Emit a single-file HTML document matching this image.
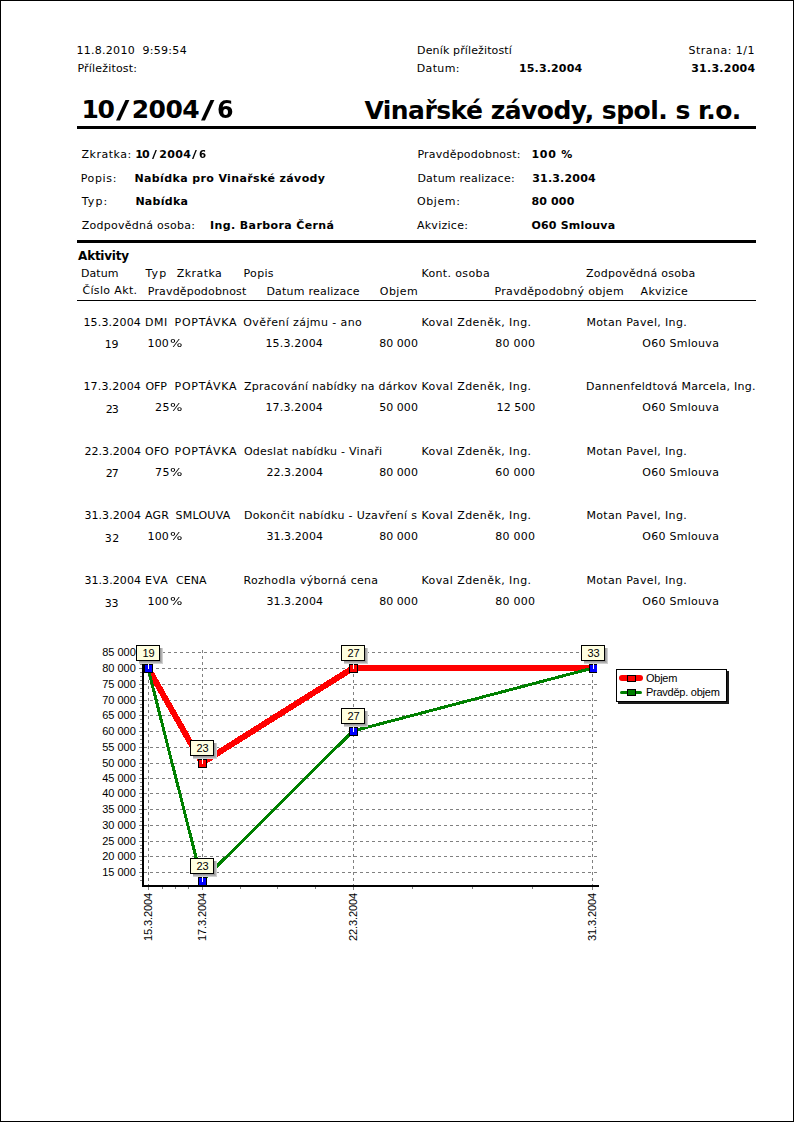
<!DOCTYPE html>
<html><head><meta charset="utf-8"><title>Deník příležitostí</title><style>
html,body{margin:0;padding:0;background:#fff;}
body{width:794px;height:1122px;position:relative;overflow:hidden;font-family:"DejaVu Sans","Liberation Sans",sans-serif;font-size:11px;color:#000;}
#frame{position:absolute;left:0;top:0;width:792px;height:1120px;border:1px solid #000;}
.t{position:absolute;white-space:nowrap;line-height:13px;}
.b{font-weight:bold;}
.hl{position:absolute;background:#000;}
.sl{display:inline-block;transform:scaleX(1.35);}
svg{position:absolute;left:0;top:0;}
</style></head><body>
<div id="frame"></div>
<div class="t " id="i0" style="top:44px;letter-spacing:0.286px;left:76.40px;">11.8.2010&nbsp; 9:59:54</div>
<div class="t " id="i1" style="top:62px;letter-spacing:0.188px;left:77.40px;">Příležitost:</div>
<div class="t " id="i2" style="top:44px;letter-spacing:0.132px;left:417.10px;">Deník příležitostí</div>
<div class="t " id="i3" style="top:62px;letter-spacing:0.364px;left:416.70px;">Datum:</div>
<div class="t b" id="i4" style="top:62px;letter-spacing:0.150px;left:519.00px;">15.3.2004</div>
<div class="t " id="i5" style="top:44px;letter-spacing:0.476px;left:688.50px;">Strana: 1/1</div>
<div class="t b" id="i6" style="top:62px;letter-spacing:0.250px;left:691.20px;">31.3.2004</div>
<div class="t " id="i7" style="top:148px;letter-spacing:0.528px;left:81.50px;">Zkratka:</div>
<div class="t " id="i8" style="top:172px;letter-spacing:0.652px;left:80.70px;">Popis:</div>
<div class="t b" id="i9" style="top:172px;letter-spacing:0.385px;left:134.40px;">Nabídka pro Vinařské závody</div>
<div class="t " id="i10" style="top:195px;letter-spacing:1.100px;left:81.70px;">Typ:</div>
<div class="t b" id="i11" style="top:195px;letter-spacing:0.272px;left:135.40px;">Nabídka</div>
<div class="t " id="i12" style="top:219px;letter-spacing:0.260px;left:81.70px;">Zodpovědná osoba:</div>
<div class="t b" id="i13" style="top:219px;letter-spacing:0.384px;left:210.10px;">Ing. Barbora Černá</div>
<div class="t " id="i14" style="top:148px;letter-spacing:0.216px;left:417.40px;">Pravděpodobnost:</div>
<div class="t b" id="i15" style="top:148px;letter-spacing:0.790px;left:531.40px;">100 %</div>
<div class="t " id="i16" style="top:172px;letter-spacing:0.237px;left:417.40px;">Datum realizace:</div>
<div class="t b" id="i17" style="top:172px;letter-spacing:0.190px;left:532.20px;">31.3.2004</div>
<div class="t " id="i18" style="top:195px;letter-spacing:0.620px;left:416.90px;">Objem:</div>
<div class="t b" id="i19" style="top:195px;letter-spacing:0.158px;left:531.40px;">80 000</div>
<div class="t " id="i20" style="top:219px;letter-spacing:0.280px;left:416.90px;">Akvizice:</div>
<div class="t b" id="i21" style="top:219px;letter-spacing:0.206px;left:531.40px;">O60 Smlouva</div>
<div class="t b" id="i22" style="top:249px;letter-spacing:-0.243px;font-size:12px;line-height:14px;left:78.10px;">Aktivity</div>
<div class="t " id="i23" style="top:267px;letter-spacing:0.020px;left:81.10px;">Datum</div>
<div class="t " id="i24" style="top:267px;letter-spacing:1.020px;left:145.60px;">Typ</div>
<div class="t " id="i25" style="top:267px;letter-spacing:0.434px;left:176.80px;">Zkratka</div>
<div class="t " id="i26" style="top:267px;letter-spacing:0.340px;left:243.50px;">Popis</div>
<div class="t " id="i27" style="top:267px;letter-spacing:0.364px;left:421.40px;">Kont. osoba</div>
<div class="t " id="i28" style="top:267px;letter-spacing:0.267px;left:585.90px;">Zodpovědná osoba</div>
<div class="t " id="i29" style="top:284px;letter-spacing:0.357px;left:82.40px;">Číslo Akt.</div>
<div class="t " id="i30" style="top:285px;letter-spacing:0.171px;left:147.80px;">Pravděpodobnost</div>
<div class="t " id="i31" style="top:285px;letter-spacing:0.224px;left:266.40px;">Datum realizace</div>
<div class="t " id="i32" style="top:285px;letter-spacing:0.420px;left:379.80px;">Objem</div>
<div class="t " id="i33" style="top:285px;letter-spacing:0.309px;left:494.50px;">Pravděpodobný objem</div>
<div class="t " id="i34" style="top:285px;letter-spacing:0.300px;left:640.60px;">Akvizice</div>
<div class="t " id="i35" style="top:316px;letter-spacing:0.180px;left:83.40px;">15.3.2004</div>
<div class="t " id="i36" style="top:316px;letter-spacing:0.620px;left:144.90px;">DMI</div>
<div class="t " id="i37" style="top:316px;letter-spacing:0.757px;left:174.50px;">POPTÁVKA</div>
<div class="t " id="i38" style="top:316px;letter-spacing:0.409px;left:243.30px;width:174.20px;overflow:hidden;">Ověření zájmu - ano</div>
<div class="t " id="i39" style="top:316px;letter-spacing:0.434px;left:421.40px;">Koval Zdeněk, Ing.</div>
<div class="t " id="i40" style="top:316px;letter-spacing:0.360px;left:586.40px;">Motan Pavel, Ing.</div>
<div class="t " id="i41" style="top:338px;letter-spacing:-0.180px;left:104.70px;">19</div>
<div class="t " id="i42" style="top:337px;letter-spacing:0.180px;left:147.50px;">100</div>
<div class="t " id="i43" style="top:337px;letter-spacing:0.300px;transform:scaleX(1.187);transform-origin:0 0;left:170.00px;">%</div>
<div class="t " id="i44" style="top:337px;letter-spacing:0.180px;left:265.40px;">15.3.2004</div>
<div class="t " id="i45" style="top:337px;letter-spacing:0.044px;left:379.20px;">80 000</div>
<div class="t " id="i46" style="top:337px;letter-spacing:0.252px;left:495.20px;">80 000</div>
<div class="t " id="i47" style="top:337px;letter-spacing:0.284px;left:642.20px;">O60 Smlouva</div>
<div class="t " id="i48" style="top:380px;letter-spacing:0.180px;left:83.40px;">17.3.2004</div>
<div class="t " id="i49" style="top:380px;letter-spacing:-0.100px;left:145.40px;">OFP</div>
<div class="t " id="i50" style="top:380px;letter-spacing:0.757px;left:174.50px;">POPTÁVKA</div>
<div class="t " id="i51" style="top:380px;letter-spacing:0.248px;left:243.90px;width:173.60px;overflow:hidden;">Zpracování nabídky na dárkové předměty</div>
<div class="t " id="i52" style="top:380px;letter-spacing:0.434px;left:421.40px;">Koval Zdeněk, Ing.</div>
<div class="t " id="i53" style="top:380px;letter-spacing:0.271px;left:586.10px;">Dannenfeldtová Marcela, Ing.</div>
<div class="t " id="i54" style="top:403px;letter-spacing:-0.980px;left:105.70px;">23</div>
<div class="t " id="i55" style="top:401px;letter-spacing:0.300px;left:155.10px;">25</div>
<div class="t " id="i56" style="top:401px;letter-spacing:0.300px;transform:scaleX(1.187);transform-origin:0 0;left:170.00px;">%</div>
<div class="t " id="i57" style="top:401px;letter-spacing:0.180px;left:265.40px;">17.3.2004</div>
<div class="t " id="i58" style="top:401px;letter-spacing:0.044px;left:379.20px;">50 000</div>
<div class="t " id="i59" style="top:401px;letter-spacing:0.044px;left:496.60px;">12 500</div>
<div class="t " id="i60" style="top:401px;letter-spacing:0.284px;left:642.20px;">O60 Smlouva</div>
<div class="t " id="i61" style="top:445px;letter-spacing:0.080px;left:84.40px;">22.3.2004</div>
<div class="t " id="i62" style="top:445px;letter-spacing:0.140px;left:145.10px;">OFO</div>
<div class="t " id="i63" style="top:445px;letter-spacing:0.757px;left:174.50px;">POPTÁVKA</div>
<div class="t " id="i64" style="top:445px;letter-spacing:0.261px;left:243.90px;width:173.60px;overflow:hidden;">Odeslat nabídku - Vinaři</div>
<div class="t " id="i65" style="top:445px;letter-spacing:0.434px;left:421.40px;">Koval Zdeněk, Ing.</div>
<div class="t " id="i66" style="top:445px;letter-spacing:0.360px;left:586.40px;">Motan Pavel, Ing.</div>
<div class="t " id="i67" style="top:467px;letter-spacing:-0.980px;left:105.70px;">27</div>
<div class="t " id="i68" style="top:466px;letter-spacing:0.300px;left:155.10px;">75</div>
<div class="t " id="i69" style="top:466px;letter-spacing:0.300px;transform:scaleX(1.187);transform-origin:0 0;left:170.00px;">%</div>
<div class="t " id="i70" style="top:466px;letter-spacing:0.080px;left:266.40px;">22.3.2004</div>
<div class="t " id="i71" style="top:466px;letter-spacing:0.044px;left:379.20px;">80 000</div>
<div class="t " id="i72" style="top:466px;letter-spacing:0.252px;left:495.20px;">60 000</div>
<div class="t " id="i73" style="top:466px;letter-spacing:0.284px;left:642.20px;">O60 Smlouva</div>
<div class="t " id="i74" style="top:509px;letter-spacing:0.080px;left:84.40px;">31.3.2004</div>
<div class="t " id="i75" style="top:509px;letter-spacing:0.140px;left:145.10px;">AGR</div>
<div class="t " id="i76" style="top:509px;letter-spacing:0.271px;left:175.40px;">SMLOUVA</div>
<div class="t " id="i77" style="top:509px;letter-spacing:0.329px;left:243.90px;width:173.60px;overflow:hidden;">Dokončit nabídku - Uzavření s</div>
<div class="t " id="i78" style="top:509px;letter-spacing:0.434px;left:421.40px;">Koval Zdeněk, Ing.</div>
<div class="t " id="i79" style="top:509px;letter-spacing:0.360px;left:586.40px;">Motan Pavel, Ing.</div>
<div class="t " id="i80" style="top:532px;letter-spacing:0.620px;left:104.70px;">32</div>
<div class="t " id="i81" style="top:530px;letter-spacing:0.180px;left:147.50px;">100</div>
<div class="t " id="i82" style="top:530px;letter-spacing:0.300px;transform:scaleX(1.187);transform-origin:0 0;left:170.00px;">%</div>
<div class="t " id="i83" style="top:530px;letter-spacing:0.080px;left:266.40px;">31.3.2004</div>
<div class="t " id="i84" style="top:530px;letter-spacing:0.044px;left:379.20px;">80 000</div>
<div class="t " id="i85" style="top:530px;letter-spacing:0.252px;left:495.20px;">80 000</div>
<div class="t " id="i86" style="top:530px;letter-spacing:0.284px;left:642.20px;">O60 Smlouva</div>
<div class="t " id="i87" style="top:574px;letter-spacing:0.080px;left:84.40px;">31.3.2004</div>
<div class="t " id="i88" style="top:574px;letter-spacing:0.700px;left:145.10px;">EVA</div>
<div class="t " id="i89" style="top:574px;letter-spacing:0.088px;left:175.90px;">CENA</div>
<div class="t " id="i90" style="top:574px;letter-spacing:0.308px;left:243.50px;width:174.00px;overflow:hidden;">Rozhodla výborná cena</div>
<div class="t " id="i91" style="top:574px;letter-spacing:0.434px;left:421.40px;">Koval Zdeněk, Ing.</div>
<div class="t " id="i92" style="top:574px;letter-spacing:0.360px;left:586.40px;">Motan Pavel, Ing.</div>
<div class="t " id="i93" style="top:597px;letter-spacing:-0.180px;left:104.70px;">33</div>
<div class="t " id="i94" style="top:595px;letter-spacing:0.180px;left:147.50px;">100</div>
<div class="t " id="i95" style="top:595px;letter-spacing:0.300px;transform:scaleX(1.187);transform-origin:0 0;left:170.00px;">%</div>
<div class="t " id="i96" style="top:595px;letter-spacing:0.080px;left:266.40px;">31.3.2004</div>
<div class="t " id="i97" style="top:595px;letter-spacing:0.044px;left:379.20px;">80 000</div>
<div class="t " id="i98" style="top:595px;letter-spacing:0.252px;left:495.20px;">80 000</div>
<div class="t " id="i99" style="top:595px;letter-spacing:0.284px;left:642.20px;">O60 Smlouva</div>
<div class="t b" id="i100" style="top:95px;letter-spacing:-1.250px;font-size:25px;line-height:30px;left:81.40px;">10</div>
<div class="t b" id="i101" style="top:95px;letter-spacing:0.350px;font-size:25px;line-height:30px;transform:scaleX(1.471);transform-origin:0 0;left:115.90px;">/</div>
<div class="t b" id="i102" style="top:95px;letter-spacing:-0.501px;font-size:25px;line-height:30px;left:131.70px;">2004</div>
<div class="t b" id="i103" style="top:95px;letter-spacing:0.350px;font-size:25px;line-height:30px;transform:scaleX(1.471);transform-origin:0 0;left:200.90px;">/</div>
<div class="t b" id="i104" style="top:95px;letter-spacing:0.350px;font-size:25px;line-height:30px;transform:scaleX(0.953);transform-origin:0 0;left:217.00px;">6</div>
<div class="t b" id="i105" style="top:96px;letter-spacing:-0.522px;font-size:25px;line-height:30px;left:364.40px;">Vinařské závody, spol. s r.o.</div>
<div class="t b" id="i106" style="top:148px;letter-spacing:-0.930px;left:135.30px;">10</div>
<div class="t b" id="i107" style="top:148px;letter-spacing:0.350px;transform:scaleX(1.213);transform-origin:0 0;left:151.60px;">/</div>
<div class="t b" id="i108" style="top:148px;letter-spacing:0.405px;left:159.20px;">2004</div>
<div class="t b" id="i109" style="top:148px;letter-spacing:0.350px;transform:scaleX(1.212);transform-origin:0 0;left:191.70px;">/</div>
<div class="t b" id="i110" style="top:148px;letter-spacing:0.350px;transform:scaleX(0.934);transform-origin:0 0;left:199.00px;">6</div>
<div class="hl" style="left:77px;top:126px;width:679px;height:3px"></div>
<div class="hl" style="left:77px;top:240px;width:679px;height:3px"></div>
<div class="hl" style="left:77px;top:300px;width:679px;height:1px"></div>
<svg width="794" height="1122" viewBox="0 0 794 1122"><defs><filter id="blur" x="-20%" y="-20%" width="140%" height="140%"><feGaussianBlur stdDeviation="0.6"/></filter><filter id="blur2" x="-10%" y="-20%" width="120%" height="140%"><feGaussianBlur stdDeviation="0.4"/></filter><clipPath id="plot"><rect x="144" y="650" width="453" height="235"/></clipPath></defs><style>.ax{font-family:"Liberation Sans",Arial,sans-serif;font-size:11px;fill:#000;}.xl{letter-spacing:-0.1px}.lg{letter-spacing:-0.25px}</style><path d="M144 652.5H597" stroke="#808080" stroke-dasharray="3 3"/><path d="M139 652.5H142" stroke="#808080"/><path d="M144 668.5H597" stroke="#808080" stroke-dasharray="3 3"/><path d="M139 668.5H142" stroke="#808080"/><path d="M144 684.5H597" stroke="#808080" stroke-dasharray="3 3"/><path d="M139 684.5H142" stroke="#808080"/><path d="M144 700.5H597" stroke="#808080" stroke-dasharray="3 3"/><path d="M139 700.5H142" stroke="#808080"/><path d="M144 715.5H597" stroke="#808080" stroke-dasharray="3 3"/><path d="M139 715.5H142" stroke="#808080"/><path d="M144 731.5H597" stroke="#808080" stroke-dasharray="3 3"/><path d="M139 731.5H142" stroke="#808080"/><path d="M144 747.5H597" stroke="#808080" stroke-dasharray="3 3"/><path d="M139 747.5H142" stroke="#808080"/><path d="M144 763.5H597" stroke="#808080" stroke-dasharray="3 3"/><path d="M139 763.5H142" stroke="#808080"/><path d="M144 778.5H597" stroke="#808080" stroke-dasharray="3 3"/><path d="M139 778.5H142" stroke="#808080"/><path d="M144 793.5H597" stroke="#808080" stroke-dasharray="3 3"/><path d="M139 793.5H142" stroke="#808080"/><path d="M144 809.5H597" stroke="#808080" stroke-dasharray="3 3"/><path d="M139 809.5H142" stroke="#808080"/><path d="M144 825.5H597" stroke="#808080" stroke-dasharray="3 3"/><path d="M139 825.5H142" stroke="#808080"/><path d="M144 841.5H597" stroke="#808080" stroke-dasharray="3 3"/><path d="M139 841.5H142" stroke="#808080"/><path d="M144 856.5H597" stroke="#808080" stroke-dasharray="3 3"/><path d="M139 856.5H142" stroke="#808080"/><path d="M144 872.5H597" stroke="#808080" stroke-dasharray="3 3"/><path d="M139 872.5H142" stroke="#808080"/><path d="M140 656.5H142" stroke="#808080"/><path d="M140 660.5H142" stroke="#808080"/><path d="M140 664.5H142" stroke="#808080"/><path d="M140 672.5H142" stroke="#808080"/><path d="M140 676.5H142" stroke="#808080"/><path d="M140 680.5H142" stroke="#808080"/><path d="M140 688.5H142" stroke="#808080"/><path d="M140 692.5H142" stroke="#808080"/><path d="M140 696.5H142" stroke="#808080"/><path d="M140 704.5H142" stroke="#808080"/><path d="M140 707.5H142" stroke="#808080"/><path d="M140 711.5H142" stroke="#808080"/><path d="M140 719.5H142" stroke="#808080"/><path d="M140 723.5H142" stroke="#808080"/><path d="M140 727.5H142" stroke="#808080"/><path d="M140 735.5H142" stroke="#808080"/><path d="M140 739.5H142" stroke="#808080"/><path d="M140 743.5H142" stroke="#808080"/><path d="M140 751.5H142" stroke="#808080"/><path d="M140 755.5H142" stroke="#808080"/><path d="M140 759.5H142" stroke="#808080"/><path d="M140 767.5H142" stroke="#808080"/><path d="M140 770.5H142" stroke="#808080"/><path d="M140 774.5H142" stroke="#808080"/><path d="M140 782.5H142" stroke="#808080"/><path d="M140 786.5H142" stroke="#808080"/><path d="M140 789.5H142" stroke="#808080"/><path d="M140 797.5H142" stroke="#808080"/><path d="M140 801.5H142" stroke="#808080"/><path d="M140 805.5H142" stroke="#808080"/><path d="M140 813.5H142" stroke="#808080"/><path d="M140 817.5H142" stroke="#808080"/><path d="M140 821.5H142" stroke="#808080"/><path d="M140 829.5H142" stroke="#808080"/><path d="M140 833.5H142" stroke="#808080"/><path d="M140 837.5H142" stroke="#808080"/><path d="M140 845.5H142" stroke="#808080"/><path d="M140 848.5H142" stroke="#808080"/><path d="M140 852.5H142" stroke="#808080"/><path d="M140 860.5H142" stroke="#808080"/><path d="M140 864.5H142" stroke="#808080"/><path d="M140 868.5H142" stroke="#808080"/><path d="M140 876.5H142" stroke="#808080"/><path d="M140 880.5H142" stroke="#808080"/><path d="M148.5 650V887" stroke="#808080" stroke-dasharray="3 3"/><path d="M148.5 887V890" stroke="#808080"/><path d="M202.5 650V887" stroke="#808080" stroke-dasharray="3 3"/><path d="M202.5 887V890" stroke="#808080"/><path d="M353.5 650V887" stroke="#808080" stroke-dasharray="3 3"/><path d="M353.5 887V890" stroke="#808080"/><path d="M592.5 650V887" stroke="#808080" stroke-dasharray="3 3"/><path d="M592.5 887V890" stroke="#808080"/><path d="M162.5 887V889" stroke="#808080"/><path d="M175.5 887V889" stroke="#808080"/><path d="M188.5 887V889" stroke="#808080"/><path d="M240.5 887V889" stroke="#808080"/><path d="M277.5 887V889" stroke="#808080"/><path d="M315.5 887V889" stroke="#808080"/><path d="M412.5 887V889" stroke="#808080"/><path d="M472.5 887V889" stroke="#808080"/><path d="M532.5 887V889" stroke="#808080"/><text x="135.8" y="656" text-anchor="end" class="ax">85 000</text><text x="135.8" y="672" text-anchor="end" class="ax">80 000</text><text x="135.8" y="688" text-anchor="end" class="ax">75 000</text><text x="135.8" y="704" text-anchor="end" class="ax">70 000</text><text x="135.8" y="719" text-anchor="end" class="ax">65 000</text><text x="135.8" y="735" text-anchor="end" class="ax">60 000</text><text x="135.8" y="751" text-anchor="end" class="ax">55 000</text><text x="135.8" y="767" text-anchor="end" class="ax">50 000</text><text x="135.8" y="782" text-anchor="end" class="ax">45 000</text><text x="135.8" y="797" text-anchor="end" class="ax">40 000</text><text x="135.8" y="813" text-anchor="end" class="ax">35 000</text><text x="135.8" y="829" text-anchor="end" class="ax">30 000</text><text x="135.8" y="845" text-anchor="end" class="ax">25 000</text><text x="135.8" y="860" text-anchor="end" class="ax">20 000</text><text x="135.8" y="876" text-anchor="end" class="ax">15 000</text><text transform="translate(152.2,893) rotate(-90)" text-anchor="end" class="ax xl">15.3.2004</text><text transform="translate(206.2,893) rotate(-90)" text-anchor="end" class="ax xl">17.3.2004</text><text transform="translate(357.2,893) rotate(-90)" text-anchor="end" class="ax xl">22.3.2004</text><text transform="translate(596.2,893) rotate(-90)" text-anchor="end" class="ax xl">31.3.2004</text><g clip-path="url(#plot)"><polyline points="148.0,668.0 202.0,763.0 353.0,668.0 593.0,668.0" fill="none" stroke="#f00" stroke-width="6" stroke-linejoin="round" stroke-linecap="round" shape-rendering="crispEdges"/><rect x="198.5" y="759.5" width="8" height="8" fill="#f00" stroke="#000" shape-rendering="crispEdges"/><rect x="349.5" y="664.5" width="8" height="8" fill="#f00" stroke="#000" shape-rendering="crispEdges"/><polyline points="148.0,668.0 202.0,881.0 353.0,731.0 593.0,668.0" fill="none" stroke="#008000" stroke-width="3" stroke-linejoin="round" stroke-linecap="round" shape-rendering="crispEdges"/><rect x="144.5" y="664.5" width="8" height="8" fill="#00f" stroke="#000" shape-rendering="crispEdges"/><rect x="198.5" y="877.5" width="8" height="8" fill="#00f" stroke="#000" shape-rendering="crispEdges"/><rect x="349.5" y="727.5" width="8" height="8" fill="#00f" stroke="#000" shape-rendering="crispEdges"/><rect x="589.5" y="664.5" width="8" height="8" fill="#00f" stroke="#000" shape-rendering="crispEdges"/></g><rect x="142" y="664" width="2" height="223" fill="#000"/><rect x="142" y="885" width="457" height="2" fill="#000"/><rect x="139" y="648" width="24" height="16" fill="#d0d0d0"/><rect x="139" y="648" width="23" height="15" fill="#b0b0b0"/><rect x="139" y="648" width="22" height="14" fill="#9a9a9a"/><rect x="136.5" y="645.5" width="23" height="15" fill="#ffffe1" stroke="#000"/><path d="M148.5 664V669" stroke="#fff"/><text x="148.5" y="657" text-anchor="middle" class="ax">19</text><rect x="193" y="743" width="24" height="16" fill="#d0d0d0"/><rect x="193" y="743" width="23" height="15" fill="#b0b0b0"/><rect x="193" y="743" width="22" height="14" fill="#9a9a9a"/><rect x="190.5" y="740.5" width="23" height="15" fill="#ffffe1" stroke="#000"/><path d="M202.5 759V764" stroke="#fff"/><text x="202.5" y="752" text-anchor="middle" class="ax">23</text><rect x="344" y="648" width="24" height="16" fill="#d0d0d0"/><rect x="344" y="648" width="23" height="15" fill="#b0b0b0"/><rect x="344" y="648" width="22" height="14" fill="#9a9a9a"/><rect x="341.5" y="645.5" width="23" height="15" fill="#ffffe1" stroke="#000"/><path d="M353.5 664V669" stroke="#fff"/><text x="353.5" y="657" text-anchor="middle" class="ax">27</text><rect x="344" y="711" width="24" height="16" fill="#d0d0d0"/><rect x="344" y="711" width="23" height="15" fill="#b0b0b0"/><rect x="344" y="711" width="22" height="14" fill="#9a9a9a"/><rect x="341.5" y="708.5" width="23" height="15" fill="#ffffe1" stroke="#000"/><path d="M353.5 727V732" stroke="#fff"/><text x="353.5" y="720" text-anchor="middle" class="ax">27</text><rect x="584" y="648" width="24" height="16" fill="#d0d0d0"/><rect x="584" y="648" width="23" height="15" fill="#b0b0b0"/><rect x="584" y="648" width="22" height="14" fill="#9a9a9a"/><rect x="581.5" y="645.5" width="23" height="15" fill="#ffffe1" stroke="#000"/><path d="M593.5 664V669" stroke="#fff"/><text x="593.5" y="657" text-anchor="middle" class="ax">33</text><rect x="193" y="861" width="24" height="16" fill="#d0d0d0"/><rect x="193" y="861" width="23" height="15" fill="#b0b0b0"/><rect x="193" y="861" width="22" height="14" fill="#9a9a9a"/><rect x="190.5" y="858.5" width="23" height="15" fill="#ffffe1" stroke="#000"/><path d="M202.5 877V882" stroke="#fff"/><text x="202.5" y="870" text-anchor="middle" class="ax">23</text><rect x="618" y="671" width="111" height="33" fill="#1a1a1a" filter="url(#blur2)"/><rect x="616.5" y="669.5" width="110" height="32" fill="#fff" stroke="#000"/><path d="M622 678H640" stroke="#f00" stroke-width="6" stroke-linecap="round"/><rect x="627.5" y="675.5" width="8" height="6" fill="#f00" stroke="#000"/><path d="M621.5 692.5H640.5" stroke="#008000" stroke-width="3" stroke-linecap="round"/><rect x="627.5" y="689.5" width="8" height="6" fill="#008000" stroke="#000"/><text x="646" y="682" class="ax lg">Objem</text><text x="646" y="696" class="ax lg">Pravděp. objem</text></svg>
</body></html>
